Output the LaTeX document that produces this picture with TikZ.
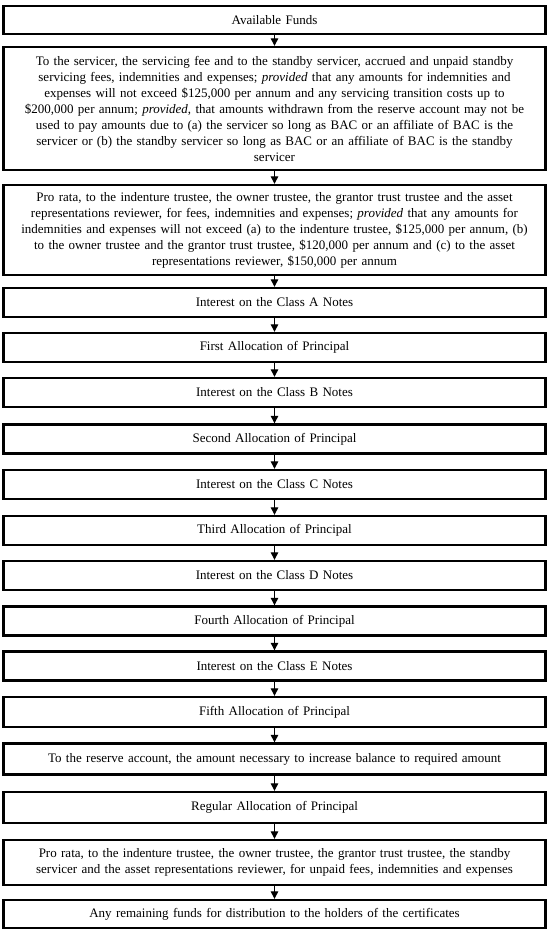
\documentclass[tikz,border=0pt]{standalone}
\usepackage{fontspec}
\setmainfont{Liberation Serif}
\usetikzlibrary{arrows.meta}
\begin{document}
\begin{tikzpicture}[x=1pt,y=-1pt,
  box/.style={draw=black, line width=2.4pt, minimum width=542pt, text width=536pt, align=center, inner sep=0pt, font=\fontsize{13}{16}\selectfont, fill=white},
  flow/.style={line width=1.2pt, -{Triangle[width=7.5pt,length=7.5pt]}}]
\useasboundingbox[fill=white] (0,0) rectangle (550,935);
\node[box, minimum height=28pt] (b1) at (274.5,20) {Available Funds};
\node[box, minimum height=123pt] (b2) at (274.5,108.5) {To the servicer, the servicing fee and to the standby servicer, accrued and unpaid standby\\
servicing fees, indemnities and expenses; \textit{provided} that any amounts for indemnities and\\
expenses will not exceed \$125,000 per annum and any servicing transition costs up to\\
\$200,000 per annum; \textit{provided}, that amounts withdrawn from the reserve account may not be\\
used to pay amounts due to (a) the servicer so long as BAC or an affiliate of BAC is the\\
servicer or (b) the standby servicer so long as BAC or an affiliate of BAC is the standby\\
servicer};
\node[box, minimum height=90pt] (b3) at (274.5,230) {Pro rata, to the indenture trustee, the owner trustee, the grantor trust trustee and the asset\\
representations reviewer, for fees, indemnities and expenses; \textit{provided} that any amounts for\\
indemnities and expenses will not exceed (a) to the indenture trustee, \$125,000 per annum, (b)\\
to the owner trustee and the grantor trust trustee, \$120,000 per annum and (c) to the asset\\
representations reviewer, \$150,000 per annum};
\node[box, minimum height=29pt] (b4) at (274.5,302.5) {Interest on the Class A Notes};
\node[box, minimum height=29pt] (b5) at (274.5,347.5) {First Allocation of Principal};
\node[box, minimum height=29pt] (b6) at (274.5,392.5) {Interest on the Class B Notes};
\node[box, minimum height=29pt] (b7) at (274.5,439) {Second Allocation of Principal};
\node[box, minimum height=29pt] (b8) at (274.5,484.5) {Interest on the Class C Notes};
\node[box, minimum height=29pt] (b9) at (274.5,530.5) {Third Allocation of Principal};
\node[box, minimum height=29pt] (b10) at (274.5,575.5) {Interest on the Class D Notes};
\node[box, minimum height=29pt] (b11) at (274.5,621) {Fourth Allocation of Principal};
\node[box, minimum height=29pt] (b12) at (274.5,666) {Interest on the Class E Notes};
\node[box, minimum height=30pt] (b13) at (274.5,712) {Fifth Allocation of Principal};
\node[box, minimum height=31pt] (b14) at (274.5,759) {To the reserve account, the amount necessary to increase balance to required amount};
\node[box, minimum height=31pt] (b15) at (274.5,807.5) {Regular Allocation of Principal};
\node[box, minimum height=45pt] (b16) at (274.5,862.5) {Pro rata, to the indenture trustee, the owner trustee, the grantor trust trustee, the standby\\
servicer and the asset representations reviewer, for unpaid fees, indemnities and expenses};
\node[box, minimum height=28pt] (b17) at (274.5,914) {Any remaining funds for distribution to the holders of the certificates};
\foreach \a/\b in {b1/b2,b2/b3,b3/b4,b4/b5,b5/b6,b6/b7,b7/b8,b8/b9,b9/b10,b10/b11,b11/b12,b12/b13,b13/b14,b14/b15,b15/b16,b16/b17}
  \draw[flow] (\a.south) -- (\b.north);
\end{tikzpicture}
\end{document}
